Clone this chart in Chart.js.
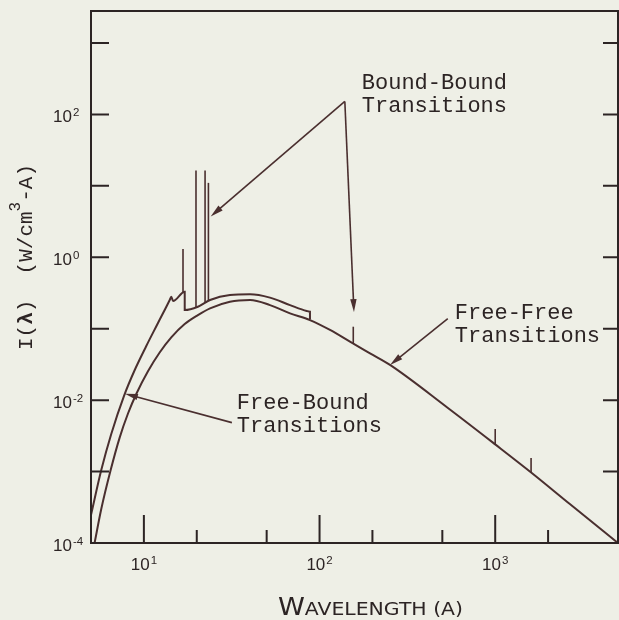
<!DOCTYPE html>
<html>
<head>
<meta charset="utf-8">
<script src="https://cdn.jsdelivr.net/npm/chart.js@4.4.1/dist/chart.umd.min.js"></script>
<style>
  html, body { margin: 0; padding: 0; background: #eeefe6; }
  #wrap { width: 619px; height: 620px; }
</style>
</head>
<body>
<div id="wrap"><canvas id="spectrum" width="619" height="620"></canvas></div>
<script>
/* Plasma emission spectrum: I(lambda) in W/cm^3-A against wavelength (A), log-log */

// free-free continuum
const ffWavelength = [5.24, 5.72, 6.47, 7.28, 8.12, 9.05, 10.55, 12.3, 14.32, 17.07, 20.3, 23.8, 30.9, 40.2, 52.2, 67.9, 88.2, 114.7, 149, 193.8, 251.8, 538, 1000, 1615, 2660, 5000];
const ffIntensity  = [1.0e-4, 2.99e-4, 1.05e-3, 2.99e-3, 6.50e-3, 0.0122, 0.0254, 0.0464, 0.0755, 0.116, 0.155, 0.193, 0.239, 0.252, 0.214, 0.164, 0.132, 0.0960, 0.0658, 0.0452, 0.0311, 0.00776, 0.0024, 9.55e-4, 3.51e-4, 1.0e-4];

// free-bound + free-free total, with recombination edges
const totWavelength = [5.0, 5.72, 6.52, 7.70, 8.87, 10.32, 12.03, 14.03, 14.32, 14.65, 17.08, 17.08, 20.3, 23.8, 30.9, 40.2, 52.2, 67.9, 84.5, 88.2, 88.2];
const totIntensity  = [2.47e-4, 1.05e-3, 3.36e-3, 0.0114, 0.0264, 0.0572, 0.120, 0.252, 0.281, 0.244, 0.330, 0.182, 0.203, 0.252, 0.296, 0.303, 0.272, 0.214, 0.177, 0.173, 0.135];

// bound-bound lines: wavelength, foot on the continuum, peak
const lineWavelength = [16.7, 19.8, 22.3, 23.3, 155.6, 1000, 1600];
const lineBase = [0.32, 0.200, 0.232, 0.245, 0.063, 0.0024, 9.7e-4];
const linePeak = [1.30, 16.4, 16.4, 11.0, 0.1066, 0.00394, 1.55e-3];

// axis ticks
const yLabelExponents = [-4, -2, 0, 2];
const yTickExponents = [-3, -2, -1, 0, 1, 2, 3];
const xLabelExponents = [1, 2, 3];
const xMajorTicks = [10, 100, 1000];
const xMinorTicks = [20, 50, 200, 500, 2000];

// labels and pointers, in data coordinates
const notes = [
    { text: ['Bound-Bound', 'Transitions'], at: [174, 223] },
    { text: ['Free-Free', 'Transitions'], at: [589, 0.138] },
    { text: ['Free-Bound', 'Transitions'], at: [33.8, 0.0076] }
];
const arrows = [
    { from: [139.3, 151.6], to: [24.0, 3.72] },
    { from: [139.3, 151.6], to: [157, 0.171] },
    { from: [537, 0.1385], to: [252, 0.0311] },
    { from: [31.7, 0.00484], to: [7.80, 0.01233] }
];

const PAPER = '#eeefe6';
const INK = '#2c2424';
const CURVE = '#4a2f2f';
const MONO = '"Liberation Mono", "DejaVu Sans Mono", monospace';
const SANS = '"Liberation Sans", Arial, sans-serif';

const toPoints = (xs, ys) => xs.map((v, i) => ({ x: v, y: ys[i] }));

const datasets = [
    { label: 'Free-Free', data: toPoints(ffWavelength, ffIntensity), borderWidth: 2, cubicInterpolationMode: 'monotone' },
    { label: 'Total', data: toPoints(totWavelength, totIntensity), borderWidth: 2, cubicInterpolationMode: 'monotone' },
    ...lineWavelength.map((w, i) => ({
        label: 'Line ' + w,
        data: [{ x: w, y: lineBase[i] }, { x: w, y: linePeak[i] }],
        borderWidth: 1.6
    }))
].map(ds => Object.assign({ showLine: true, pointRadius: 0, borderColor: CURVE, fill: false }, ds));

const paper = {
    id: 'paper',
    beforeDraw(chart) {
        const c = chart.ctx;
        c.save();
        c.fillStyle = PAPER;
        c.fillRect(0, 0, chart.width, chart.height);
        c.restore();
    }
};

function drawPower(c, exp, x, baseline, align) {
    const base = '10', sup = String(exp);
    c.font = '17px ' + SANS;
    const wb = c.measureText(base).width;
    c.font = '11.5px ' + SANS;
    const ws = c.measureText(sup).width;
    let x0 = x;
    if (align === 'center') x0 = x - (wb + ws + 1) / 2;
    c.font = '17px ' + SANS;
    c.fillText(base, x0, baseline);
    c.font = '11.5px ' + SANS;
    c.fillText(sup, x0 + wb + 1, baseline - 6);
}

const decor = {
    id: 'decor',
    afterDatasetsDraw(chart) {
        const { ctx: c, chartArea: a, scales: { x, y } } = chart;
        c.save();
        c.strokeStyle = INK;
        c.fillStyle = INK;
        c.textAlign = 'left';
        c.textBaseline = 'alphabetic';

        // frame
        c.lineWidth = 2;
        c.strokeRect(a.left, a.top, a.right - a.left, a.bottom - a.top);

        // inward ticks
        c.beginPath();
        yTickExponents.forEach(e => {
            const py = y.getPixelForValue(Math.pow(10, e));
            c.moveTo(a.left, py); c.lineTo(a.left + 18, py);
            c.moveTo(a.right - 15, py); c.lineTo(a.right, py);
        });
        xMajorTicks.forEach(v => {
            const px = x.getPixelForValue(v);
            c.moveTo(px, a.bottom); c.lineTo(px, a.bottom - 28);
        });
        xMinorTicks.forEach(v => {
            const px = x.getPixelForValue(v);
            c.moveTo(px, a.bottom); c.lineTo(px, a.bottom - 13);
        });
        c.stroke();

        // tick labels
        yLabelExponents.forEach(e => drawPower(c, e, 53, y.getPixelForValue(Math.pow(10, e)) + 8, 'left'));
        xLabelExponents.forEach(e => drawPower(c, e, x.getPixelForValue(Math.pow(10, e)), a.bottom + 27, 'center'));

        // pointers
        c.strokeStyle = CURVE;
        c.fillStyle = CURVE;
        c.lineWidth = 1.6;
        arrows.forEach(ar => {
            const x0 = x.getPixelForValue(ar.from[0]), y0 = y.getPixelForValue(ar.from[1]);
            const x1 = x.getPixelForValue(ar.to[0]), y1 = y.getPixelForValue(ar.to[1]);
            const len = Math.hypot(x1 - x0, y1 - y0);
            const dx = (x1 - x0) / len, dy = (y1 - y0) / len;
            const head = 13, half = 3.2;
            c.beginPath();
            c.moveTo(x0, y0);
            c.lineTo(x1 - dx * head * 0.6, y1 - dy * head * 0.6);
            c.stroke();
            c.beginPath();
            c.moveTo(x1, y1);
            c.lineTo(x1 - dx * head - dy * half, y1 - dy * head + dx * half);
            c.lineTo(x1 - dx * head + dy * half, y1 - dy * head - dx * half);
            c.closePath();
            c.fill();
        });

        // notes
        c.fillStyle = INK;
        c.font = '22px ' + MONO;
        notes.forEach(n => {
            const px = x.getPixelForValue(n.at[0]), py = y.getPixelForValue(n.at[1]);
            n.text.forEach((t, i) => c.fillText(t, px, py + i * 23));
        });

        // y title, rotated
        c.save();
        c.translate(32, 350);
        c.rotate(-Math.PI / 2);
        const parts = [
            ['I(', '21px ' + MONO, 0],
            ['\u03bb', 'bold 21px ' + MONO, 0],
            [')  (W/cm', '21px ' + MONO, 0],
            ['3', '16px ' + MONO, -12],
            ['-A)', '21px ' + MONO, 0]
        ];
        let pos = 0;
        parts.forEach(([t, f, dy]) => {
            c.font = f;
            c.fillText(t, pos, dy);
            pos += c.measureText(t).width;
        });
        c.restore();

        // x title, small caps
        c.save();
        const big = '24px "DejaVu Sans", sans-serif', small = '18px "DejaVu Sans", sans-serif';
        c.font = big;
        const wW = c.measureText('W').width;
        c.font = small;
        const wRest = c.measureText('AVELENGTH (A)').width;
        const target = 185;
        c.translate(278, 615);
        c.scale(target / (wW + wRest), 1);
        c.font = big;
        c.fillText('W', 0, 0);
        c.font = small;
        c.fillText('AVELENGTH (A)', wW, 0);
        c.restore();

        c.restore();
    }
};

new Chart(document.getElementById('spectrum'), {
    type: 'scatter',
    data: { datasets },
    options: {
        responsive: false,
        animation: false,
        events: [],
        layout: { padding: { top: 11, right: 1, left: 0, bottom: 0 } },
        plugins: { legend: { display: false }, tooltip: { enabled: false } },
        elements: { line: { tension: 0 } },
        scales: {
            x: {
                type: 'logarithmic', min: 5, max: 5000,
                grid: { display: false }, border: { display: false }, ticks: { display: false },
                afterFit(s) { s.height = 77; }
            },
            y: {
                type: 'logarithmic', min: 1e-4, max: 2800,
                grid: { display: false }, border: { display: false }, ticks: { display: false },
                afterFit(s) { s.width = 91; }
            }
        }
    },
    plugins: [paper, decor]
});
</script>
</body>
</html>
